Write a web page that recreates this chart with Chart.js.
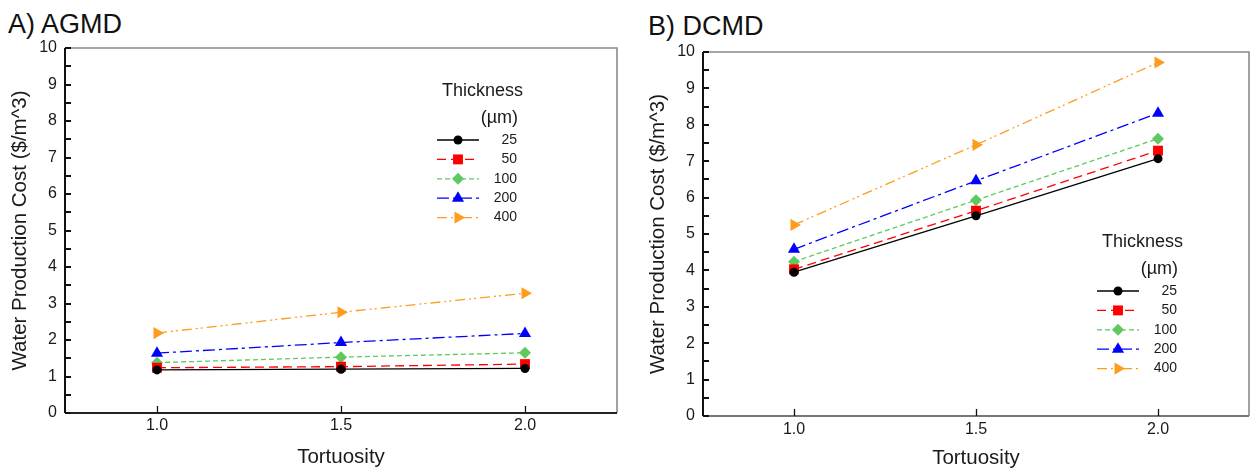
<!DOCTYPE html>
<html>
<head>
<meta charset="utf-8">
<script src="https://cdn.jsdelivr.net/npm/chart.js@4.4.0/dist/chart.umd.min.js"></script>
<style>
  html, body { margin: 0; padding: 0; background: #fff; }
  body { width: 1256px; height: 472px; position: relative; overflow: hidden; font-family: "Liberation Sans", Arial, sans-serif; }
  .panel { position: absolute; top: 0; height: 472px; }
  #panelA { left: 0; width: 630px; }
  #panelB { left: 630px; width: 626px; }
  .ptitle { position: absolute; font-size: 27px; line-height: 30px; color: #111; white-space: nowrap; }
</style>
</head>
<body>
<div class="ptitle" style="left:8px; top:9px;">A) AGMD</div>
<div class="ptitle" style="left:648px; top:11px;">B) DCMD</div>
<div class="panel" id="panelA"><canvas id="chartA" width="630" height="472"></canvas></div>
<div class="panel" id="panelB"><canvas id="chartB" width="626" height="472"></canvas></div>
<script>
// x values and legend labels
const tortuosity = [1.0, 1.5, 2.0];
const thickness = ['25', '50', '100', '200', '400'];

// A) AGMD, cost per thickness
const agmd25  = [1.18, 1.20, 1.22];
const agmd50  = [1.24, 1.27, 1.34];
const agmd100 = [1.38, 1.53, 1.65];
const agmd200 = [1.64, 1.93, 2.18];
const agmd400 = [2.19, 2.76, 3.28];

// B) DCMD, cost per thickness
const dcmd25  = [3.95, 5.50, 7.07];
const dcmd50  = [4.03, 5.64, 7.29];
const dcmd100 = [4.24, 5.93, 7.62];
const dcmd200 = [4.58, 6.46, 8.32];
const dcmd400 = [5.25, 7.45, 9.71];

const yMin = 0, yMax = 10, yStep = 0.5;
const xMin = 0.75, xMax = 2.25;

// look of each thickness series
const looks = [
    { color: '#000000', dash: [],                pointStyle: 'circle',   radius: 4.5, rotation: 0 },
    { color: '#ff0000', dash: [9, 5],            pointStyle: 'rect',     radius: 7,   rotation: 0 },
    { color: '#5fc85f', dash: [5, 3],            pointStyle: 'rectRot',  radius: 6,   rotation: 0 },
    { color: '#0000ff', dash: [12, 4, 3, 4],     pointStyle: 'triangle', radius: 7,   rotation: 0 },
    { color: '#ff9c1e', dash: [10, 4, 2, 3, 2, 4], pointStyle: 'triangle', radius: 7, rotation: 90 }
];

Chart.defaults.font.family = '"Liberation Sans", Arial, sans-serif';
Chart.defaults.color = '#1a1a1a';

function drawMarker(ctx, look, x, y) {
    const r = look.radius;
    ctx.save();
    ctx.translate(x, y);
    ctx.rotate(look.rotation * Math.PI / 180);
    ctx.fillStyle = look.color;
    ctx.beginPath();
    if (look.pointStyle === 'circle') {
        ctx.arc(0, 0, r, 0, Math.PI * 2);
    } else if (look.pointStyle === 'rect') {
        const s = r * Math.SQRT1_2;
        ctx.rect(-s, -s, 2 * s, 2 * s);
    } else if (look.pointStyle === 'rectRot') {
        ctx.moveTo(0, -r); ctx.lineTo(r, 0); ctx.lineTo(0, r); ctx.lineTo(-r, 0); ctx.closePath();
    } else {
        for (let k = 0; k < 3; k++) {
            const a = k * 2 * Math.PI / 3;
            ctx.lineTo(Math.sin(a) * r, -Math.cos(a) * r);
        }
        ctx.closePath();
    }
    ctx.fill();
    ctx.restore();
}

// axis box with ticks pointing inward
const framePlugin = {
    id: 'frame',
    afterDraw(chart, args, opts) {
        const { ctx, chartArea: a, scales: { x, y } } = chart;
        ctx.save();
        ctx.strokeStyle = '#8a8a8a';
        ctx.lineWidth = 1.6;
        ctx.beginPath();
        ctx.moveTo(a.left, a.top); ctx.lineTo(a.right, a.top); ctx.lineTo(a.right, a.bottom);
        ctx.stroke();

        ctx.strokeStyle = opts.bottomColor;
        ctx.lineWidth = 2;
        ctx.beginPath();
        ctx.moveTo(a.left, a.bottom); ctx.lineTo(a.right, a.bottom);
        ctx.stroke();

        ctx.strokeStyle = '#111';
        ctx.beginPath();
        ctx.moveTo(a.left, a.top); ctx.lineTo(a.left, a.bottom);
        y.ticks.forEach(t => {
            const py = Math.round(y.getPixelForValue(t.value));
            ctx.moveTo(a.left, py); ctx.lineTo(a.left + 6, py);
        });
        ctx.stroke();

        ctx.lineWidth = 1.3;
        ctx.beginPath();
        x.ticks.forEach(t => {
            const px = Math.round(x.getPixelForValue(t.value)) + 0.5;
            ctx.moveTo(px, a.bottom); ctx.lineTo(px, a.bottom - 7);
        });
        ctx.stroke();
        ctx.restore();
    }
};

// "Thickness (µm)" legend inside the plot
const thicknessLegend = {
    id: 'thicknessLegend',
    afterDatasetsDraw(chart, args, opts) {
        const ctx = chart.ctx;
        const x0 = opts.x, y0 = opts.y;
        ctx.save();
        ctx.fillStyle = '#1a1a1a';
        ctx.textBaseline = 'middle';
        ctx.font = '18px "Liberation Sans", Arial, sans-serif';
        ctx.textAlign = 'left';
        ctx.fillText('Thickness', x0 + 5, y0 - 49);
        ctx.textAlign = 'right';
        ctx.fillText('(\u00b5m)', x0 + 81, y0 - 22);
        ctx.font = '14px "Liberation Sans", Arial, sans-serif';
        chart.data.datasets.forEach((ds, i) => {
            const look = looks[i];
            const ly = y0 + i * 19.4;
            ctx.strokeStyle = look.color;
            ctx.lineWidth = 1.3;
            ctx.setLineDash(look.dash);
            ctx.beginPath();
            ctx.moveTo(x0, ly); ctx.lineTo(x0 + 42, ly);
            ctx.stroke();
            ctx.setLineDash([]);
            drawMarker(ctx, look, x0 + 21, ly);
            ctx.fillStyle = '#1a1a1a';
            ctx.fillText(ds.label, x0 + 80, ly);
        });
        ctx.restore();
    }
};

function makeChart(id, series, cfg) {
    const datasets = series.map((vals, i) => ({
        label: thickness[i],
        data: vals.map((v, k) => ({ x: tortuosity[k], y: v })),
        borderColor: looks[i].color,
        backgroundColor: looks[i].color,
        borderWidth: 1.3,
        borderDash: looks[i].dash,
        pointStyle: looks[i].pointStyle,
        pointRadius: looks[i].radius,
        pointRotation: looks[i].rotation,
        pointBorderWidth: 0,
        tension: 0
    }));

    return new Chart(document.getElementById(id), {
        type: 'line',
        data: { datasets: datasets },
        plugins: [framePlugin, thicknessLegend],
        options: {
            responsive: false,
            animation: false,
            layout: { padding: { top: cfg.top, right: cfg.right, left: 0, bottom: 0 } },
            plugins: {
                legend: { display: false },
                tooltip: { enabled: false },
                frame: { bottomColor: cfg.bottomColor },
                thicknessLegend: { x: cfg.legendX, y: cfg.legendY }
            },
            scales: {
                x: {
                    type: 'linear',
                    min: xMin,
                    max: xMax,
                    afterBuildTicks: s => { s.ticks = tortuosity.map(v => ({ value: v })); },
                    afterFit: s => { s.height = cfg.xHeight; },
                    grid: { display: false, drawTicks: false },
                    border: { display: false },
                    ticks: {
                        padding: cfg.xTickPad,
                        font: { size: 16 },
                        callback: v => v.toFixed(1)
                    },
                    title: {
                        display: true,
                        text: 'Tortuosity',
                        font: { size: 20.5 },
                        padding: { top: 0, bottom: cfg.xTitlePad }
                    }
                },
                y: {
                    min: yMin,
                    max: yMax,
                    afterFit: s => { s.width = cfg.yWidth; },
                    grid: { display: false, drawTicks: false },
                    border: { display: false },
                    ticks: {
                        stepSize: yStep,
                        autoSkip: false,
                        padding: 8,
                        font: { size: 16 },
                        callback: v => Number.isInteger(v) ? String(v) : ''
                    },
                    title: {
                        display: true,
                        text: 'Water Production Cost ($/m^3)',
                        font: { size: 20.5 },
                        padding: { top: cfg.yTitlePad, bottom: 0 }
                    }
                }
            }
        }
    });
}

makeChart('chartA', [agmd25, agmd50, agmd100, agmd200, agmd400], {
    top: 48, right: 13, yWidth: 65, xHeight: 59, xTickPad: 3, xTitlePad: 2, yTitlePad: 8,
    legendX: 437, legendY: 140, bottomColor: '#222'
});

makeChart('chartB', [dcmd25, dcmd50, dcmd100, dcmd200, dcmd400], {
    top: 52, right: 2, yWidth: 73, xHeight: 56, xTickPad: 4, xTitlePad: 1, yTitlePad: 16,
    legendX: 467, legendY: 291, bottomColor: '#777'
});
</script>
</body>
</html>
